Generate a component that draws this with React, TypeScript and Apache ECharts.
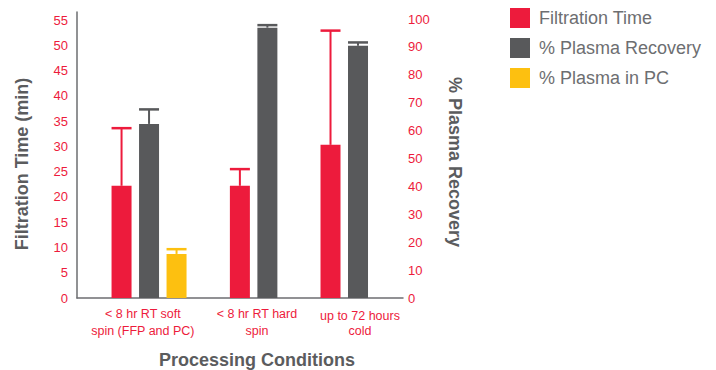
import React, { useEffect, useRef } from "react";
import * as echarts from "echarts";

// ---- data ----
const categories = ["< 8 hr RT soft\nspin (FFP and PC)", "< 8 hr RT hard\nspin", "up to 72 hours\ncold"];
const seriesNames = ["Filtration Time", "% Plasma Recovery", "% Plasma in PC"];
const filtrationTime = [22.2, 22.2, 30.3];
const filtrationTimeUpper = [33.6, 25.5, 52.9];
const plasmaRecovery = [62.4, 96.9, 90.4];
const plasmaRecoveryUpper = [67.6, 97.8, 91.6];
const plasmaInPC: (number | null)[] = [15.8, null, null];
const plasmaInPCUpper: (number | null)[] = [17.5, null, null];
const leftAxisMaxLabel = 55;
const rightAxisMaxLabel = 100;

// ---- layout (x positions of groups on a 0..100 horizontal scale) ----
const groupX = [22.1, 58.4, 86.2];
const labelX = [20.2, 55.2, 86.8];
const labelDrop = [0, 0, 4];

const RED = "#ED1B3C";
const GREY = "#58595B";
const YELLOW = "#FDC010";
const TITLE = "#5B5C5E";
const FONT = "'Liberation Sans', Arial, Helvetica, sans-serif";
const BAR_W = 20;
const BAR_GAP = 7.5;

export default function App() {
  const ref = useRef<HTMLDivElement>(null);
  useEffect(() => {
    document.body.style.margin = "0";
    const chart = echarts.init(ref.current!, undefined, { renderer: "svg" });

    const pairs = (vals: (number | null)[]) =>
      vals.map((v, i) => (v == null ? null : [groupX[i], v])).filter((d) => d) as number[][];
    const triples = (vals: (number | null)[], ups: (number | null)[]) =>
      vals.map((v, i) => (v == null ? null : [groupX[i], v, ups[i]])).filter((d) => d) as number[][];

    const errSeries = (name: string, data: number[][], yIdx: number, color: string, offset: number) => ({
      type: "custom",
      name: name + " error",
      xAxisIndex: 0,
      yAxisIndex: yIdx,
      data,
      encode: { x: 0, y: [1, 2] },
      z: 5,
      renderItem: (params: any, api: any) => {
        const x = api.value(0);
        const v = api.value(1);
        const up = api.value(2);
        const base = api.coord([x, v]);
        const top = api.coord([x, up]);
        const cx = base[0] + offset;
        return {
          type: "group",
          children: [
            { type: "line", shape: { x1: cx, y1: base[1], x2: cx, y2: top[1] }, style: { stroke: color, lineWidth: 2 } },
            { type: "line", shape: { x1: cx - BAR_W / 2, y1: top[1], x2: cx + BAR_W / 2, y2: top[1] }, style: { stroke: color, lineWidth: 2.5 } },
          ],
        };
      },
    });

    const labelFor = (val: number) => {
      let best = 0;
      labelX.forEach((lx, i) => {
        if (Math.abs(lx - val) < Math.abs(labelX[best] - val)) best = i;
      });
      const lines = categories[best].split("\n");
      if (labelDrop[best]) {
        return "{p|" + lines[0] + "}\n" + lines.slice(1).map((l) => "{n|" + l + "}").join("\n");
      }
      return lines.map((l) => "{n|" + l + "}").join("\n");
    };

    const option: any = {
      animation: false,
      grid: { left: 77, right: 313, top: 12, bottom: 72 },
      legend: {
        orient: "vertical",
        left: 505,
        top: 3,
        itemWidth: 20,
        itemHeight: 20,
        itemGap: 10,
        icon: "rect",
        data: seriesNames.map((n) => ({ name: n, icon: "rect" })),
        textStyle: { fontSize: 18, color: "#6D6E71", fontFamily: FONT, padding: [0, 0, 0, 4] },
      },
      xAxis: {
        type: "value",
        min: 0,
        max: 100,
        splitLine: { show: false },
        axisTick: { show: false },
        axisLine: { show: true, lineStyle: { color: "#6D6E71", width: 1.5 } },
        axisLabel: {
          customValues: labelX,
          formatter: (v: number) => labelFor(v),
          color: RED,
          fontSize: 12.5,
          lineHeight: 17,
          fontFamily: FONT,
          margin: 7,
          align: "center",
          rich: {
            n: { color: RED, fontSize: 12.5, lineHeight: 17, fontFamily: FONT },
            p: { color: RED, fontSize: 12.5, lineHeight: 17, fontFamily: FONT, padding: [labelDrop[2], 0, 0, 0] },
          },
        },
      },
      yAxis: [
        {
          type: "value",
          min: 0,
          max: (leftAxisMaxLabel * 286) / 278,
          interval: 5,
          splitLine: { show: false },
          axisTick: { show: false },
          axisLine: { show: true, lineStyle: { color: "#6D6E71", width: 1.5 } },
          axisLabel: { color: RED, fontSize: 13, fontFamily: FONT, margin: 9, showMaxLabel: false },
        },
        {
          type: "value",
          min: 0,
          max: (rightAxisMaxLabel * 286) / 279,
          interval: 10,
          position: "right",
          splitLine: { show: false },
          axisTick: { show: false },
          axisLine: { show: false },
          axisLabel: { color: RED, fontSize: 13, fontFamily: FONT, margin: 5, showMaxLabel: false },
        },
      ],
      series: [
        {
          type: "bar",
          name: seriesNames[0],
          yAxisIndex: 0,
          barWidth: BAR_W,
          barGap: (BAR_GAP / BAR_W) * 100 + "%",
          itemStyle: { color: RED },
          data: pairs(filtrationTime),
        },
        {
          type: "bar",
          name: seriesNames[1],
          yAxisIndex: 1,
          barWidth: BAR_W,
          barGap: (BAR_GAP / BAR_W) * 100 + "%",
          itemStyle: { color: GREY },
          data: pairs(plasmaRecovery),
        },
        {
          type: "bar",
          name: seriesNames[2],
          yAxisIndex: 1,
          barWidth: BAR_W,
          barGap: (BAR_GAP / BAR_W) * 100 + "%",
          itemStyle: { color: YELLOW },
          data: pairs(plasmaInPC),
        },
        errSeries(seriesNames[0], triples(filtrationTime, filtrationTimeUpper), 0, RED, -(BAR_W + BAR_GAP)),
        errSeries(seriesNames[1], triples(plasmaRecovery, plasmaRecoveryUpper), 1, GREY, 0),
        errSeries(seriesNames[2], triples(plasmaInPC, plasmaInPCUpper), 1, YELLOW, BAR_W + BAR_GAP),
      ],
      graphic: [
        {
          type: "text",
          x: 22,
          y: 164,
          rotation: Math.PI / 2,
          style: { text: "Filtration Time (min)", fontSize: 18, fontWeight: "bold", fill: TITLE, fontFamily: FONT, align: "center", verticalAlign: "middle" },
        },
        {
          type: "text",
          x: 455,
          y: 162,
          rotation: -Math.PI / 2,
          style: { text: "% Plasma Recovery", fontSize: 18, fontWeight: "bold", fill: TITLE, fontFamily: FONT, align: "center", verticalAlign: "middle" },
        },
        {
          type: "text",
          x: 257,
          y: 360,
          style: { text: "Processing Conditions", fontSize: 18, fontWeight: "bold", fill: TITLE, fontFamily: FONT, align: "center", verticalAlign: "middle" },
        },
      ],
    };
    chart.setOption(option);
    return () => chart.dispose();
  }, []);
  return <div ref={ref} style={{ width: 716, height: 370 }} />;
}
